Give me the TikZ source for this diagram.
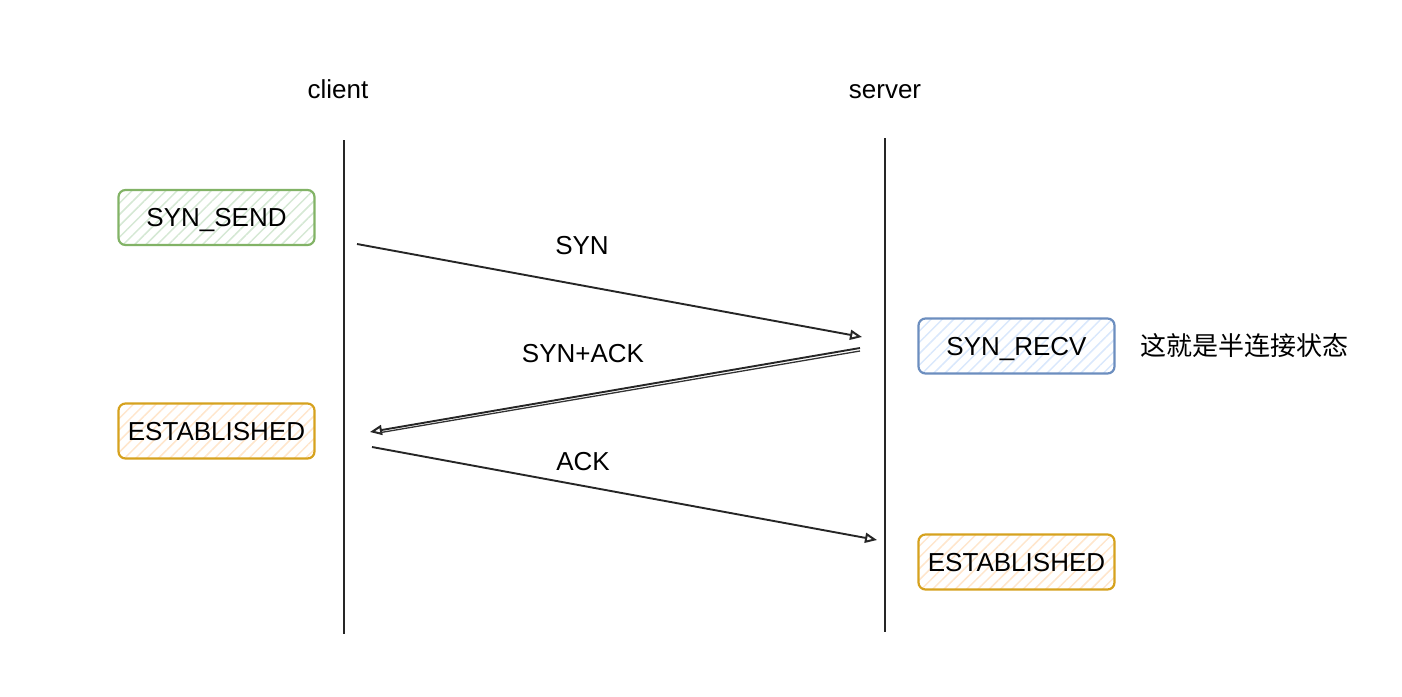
\documentclass[tikz,border=0pt]{standalone}
\usepackage{fontspec}
\setmainfont{Liberation Sans}
\newfontfamily\cjk{Noto Sans CJK SC}
\usetikzlibrary{arrows.meta,patterns.meta}
\definecolor{gborder}{HTML}{82B366}
\definecolor{gfill}{HTML}{D5E8D4}
\definecolor{bborder}{HTML}{6C8EBF}
\definecolor{bfill}{HTML}{DAE8FC}
\definecolor{oborder}{HTML}{D6A21E}
\definecolor{ofill}{HTML}{FFE6CC}
\tikzset{
  x=1pt, y=-1pt,
  lbl/.style={font=\fontsize{26}{30}\selectfont, inner sep=0pt, text height=18.6pt, text depth=0pt},
  statebox/.style={rounded corners=7pt, line width=2.2pt, minimum width=196pt, minimum height=55pt,
    font=\fontsize{26}{30}\selectfont, inner sep=0pt, text height=18.6pt, text depth=0pt},
  greenbox/.style={statebox, draw=gborder, pattern={Lines[angle=45,distance=8pt,line width=1.5pt]}, pattern color=gfill},
  bluebox/.style={statebox, draw=bborder, pattern={Lines[angle=45,distance=8pt,line width=1.5pt]}, pattern color=bfill},
  orangebox/.style={statebox, draw=oborder, pattern={Lines[angle=45,distance=8pt,line width=1.5pt]}, pattern color=ofill},
  lifeline/.style={line width=2.2pt, black!85},
  msg/.style={line width=1.9pt, black!85, -{Triangle[open,length=12pt,width=10pt,line width=2pt]}},
}
\begin{document}
\begin{tikzpicture}
\useasboundingbox (0,0) rectangle (1402,696);
\node[lbl] (client) at (338,89) {client};
\node[lbl] (server) at (885,89) {server};
\coordinate (ctop) at (344,140);
\coordinate (cbot) at (344,634);
\coordinate (stop) at (885,138);
\coordinate (sbot) at (885,632);
\draw[lifeline] (ctop) -- (cbot);
\draw[lifeline] (stop) -- (sbot);

\node[greenbox] (synsend) at (216.5,217.5) {SYN\_SEND};
\node[orangebox] (estc) at (216.5,431) {ESTABLISHED};
\node[bluebox] (synrecv) at (1016.5,346) {SYN\_RECV};
\node[orangebox] (ests) at (1016.5,562) {ESTABLISHED};
\node[font=\cjk\fontsize{26}{30}\selectfont, inner sep=0pt] (note) at (1244,346) {这就是半连接状态};

\coordinate (a1) at (357,244);
\coordinate (b1) at (862,337);
\coordinate (a2) at (860,348);
\coordinate (b2) at (370,432);
\coordinate (a3) at (372,447);
\coordinate (b3) at (877,540);
\draw[msg] (a1) -- (b1);
\draw[msg] (a2) -- (b2);
\draw[line width=1.3pt, black!80] ([yshift=-3pt]a2) -- ([xshift=8pt,yshift=-1pt]b2);
\draw[msg] (a3) -- (b3);

\node[lbl] (syn) at (582,245) {SYN};
\node[lbl] (synack) at (583,353) {SYN+ACK};
\node[lbl] (ack) at (583,461) {ACK};
\end{tikzpicture}
\end{document}
